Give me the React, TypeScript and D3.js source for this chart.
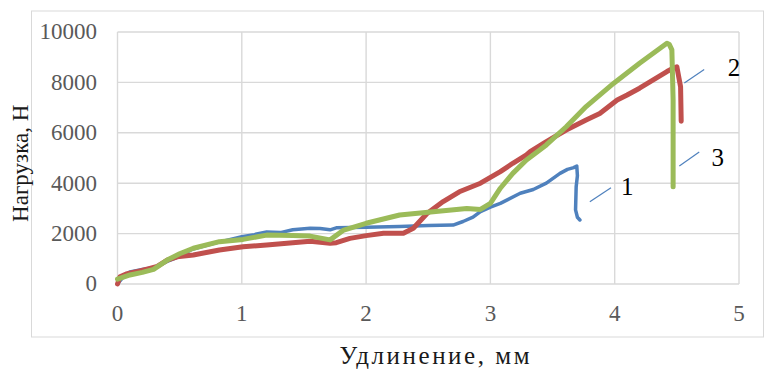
import React from "react";
import * as d3 from "d3";

const xTicks = [0, 1, 2, 3, 4, 5];
const yTicks = [0, 2000, 4000, 6000, 8000, 10000];

const s1x = [0, 0.05, 0.1, 0.2, 0.3, 0.4, 0.5, 0.6, 0.8, 1.0, 1.1, 1.2, 1.31, 1.41, 1.55, 1.63, 1.71, 1.76, 2.0, 2.27, 2.5, 2.7, 2.78, 2.86, 2.92, 3.0, 3.08, 3.24, 3.345, 3.45, 3.56, 3.62, 3.67, 3.695, 3.7, 3.69, 3.685, 3.7, 3.72];
const s1y = [0, 300, 480, 580, 660, 900, 1100, 1380, 1640, 1880, 1960, 2060, 2040, 2150, 2210, 2200, 2150, 2230, 2250, 2280, 2320, 2340, 2480, 2650, 2870, 3050, 3200, 3600, 3750, 4000, 4390, 4550, 4620, 4680, 4300, 3860, 2940, 2650, 2540];

const s2x = [0, 0.02, 0.07, 0.18, 0.26, 0.32, 0.4, 0.48, 0.61, 0.82, 1.01, 1.2, 1.41, 1.55, 1.71, 1.76, 1.87, 2.0, 2.14, 2.3, 2.38, 2.49, 2.62, 2.75, 2.92, 3.08, 3.18, 3.29, 3.32, 3.45, 3.61, 3.77, 3.88, 4.02, 4.1, 4.2, 4.31, 4.42, 4.47, 4.5, 4.53, 4.535];
const s2y = [0, 290, 400, 520, 620, 700, 950, 1080, 1150, 1350, 1480, 1550, 1640, 1700, 1620, 1640, 1810, 1920, 2010, 2010, 2210, 2800, 3270, 3660, 4000, 4460, 4790, 5120, 5250, 5650, 6110, 6510, 6770, 7300, 7500, 7770, 8100, 8430, 8560, 8620, 7830, 6460];

const s3x = [0, 0.1, 0.2, 0.29, 0.4, 0.5, 0.61, 0.82, 1.01, 1.2, 1.41, 1.55, 1.71, 1.82, 2.0, 2.27, 2.54, 2.81, 2.92, 3.0, 3.08, 3.18, 3.29, 3.45, 3.61, 3.77, 3.99, 4.2, 4.42, 4.44, 4.46, 4.47, 4.47];
const s3y = [190, 360, 460, 580, 950, 1200, 1420, 1680, 1770, 1940, 1920, 1900, 1750, 2140, 2410, 2740, 2870, 3000, 2960, 3200, 3800, 4390, 4920, 5520, 6240, 7040, 7960, 8760, 9550, 9500, 9290, 7300, 3860];

const seriesNames = ["1", "2", "3"];
const seriesColors = ["#4f81bd", "#c0504d", "#9bbb59"];
const seriesWidths = [3.5, 5, 5];
const labelFrom = [[3.8, 3260], [4.56, 7980], [4.52, 4680]];
const labelTo = [[3.97, 3820], [4.72, 8510], [4.68, 5240]];
const labelText = [[4.1, 3550], [4.96, 8250], [4.83, 4680]];

export default function App() {
  const W = 764, H = 370;
  const left = 117.5, right = 739, top = 32, bottom = 284;
  const x = d3.scaleLinear().domain([0, 5]).range([left, right]);
  const y = d3.scaleLinear().domain([0, 10000]).range([bottom, top]);
  const data = [
    s1x.map((v, i) => [v, s1y[i]]),
    s2x.map((v, i) => [v, s2y[i]]),
    s3x.map((v, i) => [v, s3y[i]]),
  ];
  const line = d3.line<number[]>().x(d => x(d[0])).y(d => y(d[1])).curve(d3.curveLinear);
  const font = "Liberation Serif, serif";
  const ts = { fontFamily: font };
  return (
    <svg width={W} height={H} style={{ position: "absolute", left: 0, top: 0 }}>
      <rect x={0} y={0} width={W} height={H} fill="#fff" />
      <rect x={31.5} y={11} width={732} height={326} fill="none" stroke="#d9d9d9" strokeWidth={1} />
      {yTicks.map(t => (
        <line key={"gy" + t} x1={left} x2={right} y1={y(t)} y2={y(t)} stroke="#d9d9d9" strokeWidth={1.4} />
      ))}
      {xTicks.map(t => (
        <line key={"gx" + t} x1={x(t)} x2={x(t)} y1={top} y2={bottom} stroke="#d9d9d9" strokeWidth={1.4} />
      ))}
      {yTicks.map(t => (
        <text key={"ty" + t} x={97} y={y(t) + 7.3} textAnchor="end" style={ts} fontSize={23} fill="#595959">{t}</text>
      ))}
      {xTicks.map(t => (
        <text key={"tx" + t} x={x(t)} y={bottom + 36.7} textAnchor="middle" style={ts} fontSize={23} fill="#595959">{t}</text>
      ))}
      {data.map((d, i) => (
        <path key={"s" + i} d={line(d) || ""} fill="none" stroke={seriesColors[i]} strokeWidth={seriesWidths[i]} strokeLinejoin="round" strokeLinecap="round" />
      ))}
      {seriesNames.map((n, i) => (
        <g key={"lb" + i}>
          <line x1={x(labelFrom[i][0])} y1={y(labelFrom[i][1])} x2={x(labelTo[i][0])} y2={y(labelTo[i][1])} stroke="#4f81bd" strokeWidth={1.2} />
          <text x={x(labelText[i][0])} y={y(labelText[i][1])} textAnchor="middle" style={ts} fontSize={25} fill="#000">{n}</text>
        </g>
      ))}
      <text x={339.5} y={364} style={ts} fontSize={25} fill="#1a1a1a" textLength={190} lengthAdjust="spacing">Удлинение, мм</text>
      <text transform={`translate(28.3,163.3) rotate(-90)`} textAnchor="middle" style={ts} fontSize={23} fill="#1a1a1a">Нагрузка, Н</text>
    </svg>
  );
}
